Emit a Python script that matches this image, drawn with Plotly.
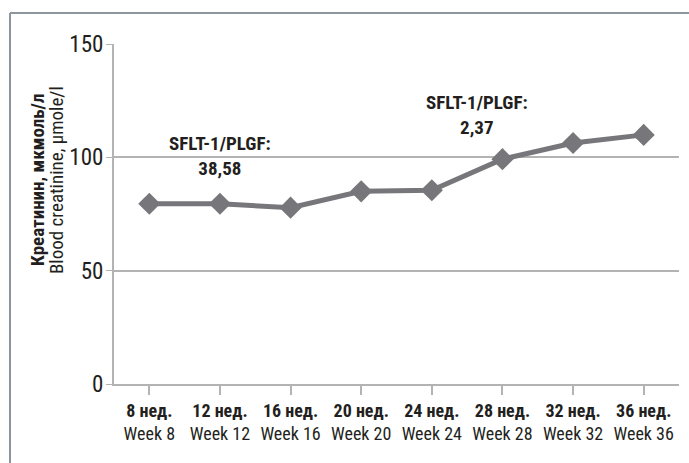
import plotly.graph_objects as go

weeks_ru = ["8 нед.", "12 нед.", "16 нед.", "20 нед.", "24 нед.", "28 нед.", "32 нед.", "36 нед."]
weeks_en = ["Week 8", "Week 12", "Week 16", "Week 20", "Week 24", "Week 28", "Week 32", "Week 36"]
creatinine = [79.5, 79.5, 77.8, 85.0, 85.5, 99.2, 106.3, 109.9]
y_ticks = [0, 50, 100, 150]
ratio_labels = ["38,58", "2,37"]
ratio_pos = [1.0, 4.64]     # category position of annotation centers
ratio_y = [100.5, 118.5]    # data-y of annotation centers

W, H = 689, 463
L, R, T, B = 114, 10, 44, 79
pw, ph = W - L - R, H - T - B

FONT = "Roboto Condensed, Liberation Sans Narrow, Arial Narrow, sans-serif"
TXT = "#231f20"
GRID = "#b3b3b3"
LINE = "#77777b"
FRAME = "#8d969d"

cats = [f"<b>{r}</b><br>{e}" for r, e in zip(weeks_ru, weeks_en)]

fig = go.Figure()
fig.add_trace(go.Scatter(
    x=list(range(len(cats))), y=creatinine, mode="lines+markers",
    line=dict(color=LINE, width=5),
    marker=dict(symbol="diamond", size=17, color=LINE),
    hoverinfo="skip", showlegend=False,
))

for lab, xp, yp in zip(ratio_labels, ratio_pos, ratio_y):
    fig.add_annotation(x=xp, y=yp, xref="x", yref="y",
                       text=f"<b>SFLT-1/PLGF:</b><br><b>{lab}</b>",
                       showarrow=False, font=dict(family=FONT, size=19, color=TXT),
                       align="center", xanchor="center", yanchor="middle")

# y-axis title, two lines
fig.add_annotation(x=(37 - L) / pw, y=(H - B - 180) / ph, xref="paper", yref="paper",
                   xanchor="center", yanchor="middle",
                   text="<b>Креатинин, мкмоль/л</b>", textangle=-90, showarrow=False,
                   font=dict(family=FONT, size=19, color=TXT))
fig.add_annotation(x=(56 - L) / pw, y=(H - B - 180) / ph, xref="paper", yref="paper",
                   xanchor="center", yanchor="middle",
                   text="Blood creatinine, µmole/l", textangle=-90, showarrow=False,
                   font=dict(family=FONT, size=19, color=TXT))

# outer frame: only its top and left edges fall inside the picture
fx0 = (10 - L) / pw
fy1 = (H - B - 13) / ph
fig.add_shape(type="line", xref="paper", yref="paper", x0=fx0, x1=(W + 20 - L) / pw,
              y0=fy1, y1=fy1, line=dict(color=FRAME, width=2), layer="below")
fig.add_shape(type="line", xref="paper", yref="paper", x0=fx0, x1=fx0,
              y0=fy1, y1=-(B + 20) / ph, line=dict(color=FRAME, width=2), layer="below")

fig.update_layout(
    width=W, height=H,
    margin=dict(l=L, r=R, t=T, b=B),
    paper_bgcolor="white", plot_bgcolor="white",
    font=dict(family=FONT, color=TXT),
    xaxis=dict(
        tickmode="array", tickvals=list(range(len(cats))), ticktext=cats,
        range=[-0.5, len(cats) - 0.5],
        showgrid=False, zeroline=False,
        showline=True, linecolor=GRID, linewidth=2,
        ticks="outside", ticklen=9, tickcolor=GRID, tickwidth=1.5,
        tickfont=dict(family=FONT, size=18, color=TXT),
    ),
    yaxis=dict(
        range=[0, 150], tickvals=y_ticks,
        showgrid=True, gridcolor=GRID, gridwidth=1.5,
        zeroline=False, showline=True, linecolor=GRID, linewidth=2,
        ticks="outside", ticklen=6, tickcolor=GRID,
        ticklabelstandoff=-2,
        tickfont=dict(family=FONT, size=23, color=TXT),
    ),
)

fig.write_html("out.html", config={"displayModeBar": False},
               post_script="document.body.style.margin='0';document.body.style.overflow='hidden';")
